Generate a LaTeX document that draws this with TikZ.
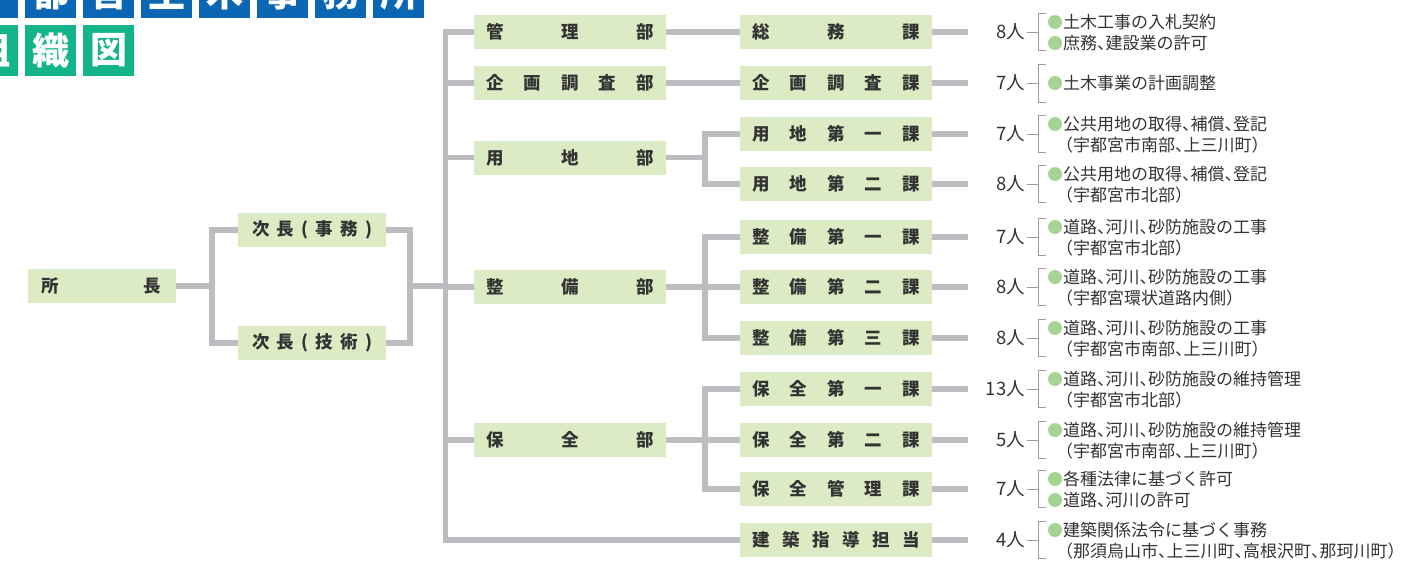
\documentclass[tikz,border=0pt]{standalone}
\usepackage{fontspec}
\setmainfont{Noto Sans CJK JP}
\definecolor{linegray}{HTML}{BDBDC1}
\definecolor{thingray}{HTML}{9C9C9C}
\definecolor{boxgreen}{HTML}{DDEBC4}
\definecolor{txt}{HTML}{333333}
\definecolor{titleblue}{HTML}{0B67B3}
\definecolor{titlegreen}{HTML}{14B48B}
\definecolor{bulletgreen}{HTML}{A5D492}
\newcommand\spr[2]{\makebox[#1][s]{#2}}
\newcommand\tk{\makebox[.5em][l]{、}}
\tikzset{
  conn/.style={draw=linegray, line width=5.5pt, line join=miter},
  thinln/.style={draw=thingray, line width=0.9pt},
  box/.style={fill=boxgreen, minimum height=34pt, inner sep=0pt, text=txt,
    font=\bfseries\fontsize{17.5pt}{20pt}\selectfont},
  wbox/.style={box, minimum width=192pt},
  sbox/.style={box, minimum width=148pt},
  tb/.style={fill=titleblue, minimum size=51pt, inner sep=0pt, text=white,
    font=\bfseries\fontsize{37pt}{40pt}\selectfont},
  tg/.style={tb, fill=titlegreen},
  cnt/.style={inner sep=0pt, text=txt, font=\fontsize{18.5pt}{20pt}\selectfont},
  desc/.style={inner sep=0pt, text=txt, font=\fontsize{17pt}{18pt}\selectfont},
  bullet/.style={circle, fill=bulletgreen, minimum size=14pt, inner sep=0pt},
}
% count label with tick
\newcommand\cntl[3]{%
  \node[cnt, anchor=east] (#1n) at (1025,#2) {#3};
  \coordinate (#1k) at (1038,#2);
  \draw[thinln] (#1n.east) ++(2,0) -- (#1k);
}
% bracket
\newcommand\brk[4]{%
  \coordinate (#1u) at (1046,#2-#3);
  \coordinate (#1d) at (1046,#2+#4);
  \draw[thinln] (#1u) -- (#1u -| #1k) -- (#1d -| #1k) -- (#1d);
}
% bullet line
\newcommand\bl[3]{%
  \node[bullet] (#1) at (1055,#2) {};
  \node[desc, anchor=west] (#1x) at (1063,#2) {#3};
}
% paren line
\newcommand\pl[3]{%
  \node[desc, anchor=west] (#1) at (1056,#2) {#3};
}
\begin{document}
\begin{tikzpicture}[x=1pt,y=-1pt]
\useasboundingbox (0,0) rectangle (1414,562);
\clip (0,0) rectangle (1414,562);

% title
\foreach \c [count=\i from 0] in {宇,都,宮,土,木,事,務,所}
  \node[tb] (t\i) at (-7.5+58*\i,-7.5) {\c};
\foreach \c [count=\i from 0] in {組,織,図}
  \node[tg] (g\i) at (-7.5+58*\i,50.5) {\c};

% level 1-2
\node[sbox] (shocho) at (101.5,286) {\spr{120pt}{所\hfill 長}};
\node[sbox] (jimu) at (312,230) {\spr{120pt}{次\hfill 長\hfill (\hfill 事\hfill 務\hfill )}};
\node[sbox] (gijutsu) at (312,343) {\spr{120pt}{次\hfill 長\hfill (\hfill 技\hfill 術\hfill )}};

% departments
\node[wbox] (kanri) at (570,32) {\spr{168pt}{管\hfill 理\hfill 部}};
\node[wbox] (kikaku) at (570,83) {\spr{168pt}{企\hfill 画\hfill 調\hfill 査\hfill 部}};
\node[wbox] (yochi) at (570,157.5) {\spr{168pt}{用\hfill 地\hfill 部}};
\node[wbox] (seibi) at (570,287) {\spr{168pt}{整\hfill 備\hfill 部}};
\node[wbox] (hozen) at (570,440) {\spr{168pt}{保\hfill 全\hfill 部}};

% sections
\node[wbox] (s1) at (836,32) {\spr{168pt}{総\hfill 務\hfill 課}};
\node[wbox] (s2) at (836,83) {\spr{168pt}{企\hfill 画\hfill 調\hfill 査\hfill 課}};
\node[wbox] (s3) at (836,134) {\spr{168pt}{用\hfill 地\hfill 第\hfill 一\hfill 課}};
\node[wbox] (s4) at (836,184) {\spr{168pt}{用\hfill 地\hfill 第\hfill 二\hfill 課}};
\node[wbox] (s5) at (836,237) {\spr{168pt}{整\hfill 備\hfill 第\hfill 一\hfill 課}};
\node[wbox] (s6) at (836,287) {\spr{168pt}{整\hfill 備\hfill 第\hfill 二\hfill 課}};
\node[wbox] (s7) at (836,338) {\spr{168pt}{整\hfill 備\hfill 第\hfill 三\hfill 課}};
\node[wbox] (s8) at (836,389) {\spr{168pt}{保\hfill 全\hfill 第\hfill 一\hfill 課}};
\node[wbox] (s9) at (836,440) {\spr{168pt}{保\hfill 全\hfill 第\hfill 二\hfill 課}};
\node[wbox] (s10) at (836,489) {\spr{168pt}{保\hfill 全\hfill 管\hfill 理\hfill 課}};
\node[wbox] (s11) at (836,540) {\spr{168pt}{建\hfill 築\hfill 指\hfill 導\hfill 担\hfill 当}};

% connectors left
\coordinate (b1) at (212,286);
\coordinate (b2) at (410,286);
\coordinate (m) at (445.5,286);
\draw[conn] (shocho.east) -- (b1);
\draw[conn] (jimu.west) -| (b1) |- (gijutsu.west);
\draw[conn] (jimu.east) -| (b2) |- (gijutsu.east);
\draw[conn] (b2) -- (m);
\draw[conn] (kanri.west) -| (m) |- (s11.west);
\draw[conn] (kikaku.west) -- (kikaku.west -| m);
\draw[conn] (yochi.west) -- (yochi.west -| m);
\draw[conn] (seibi.west) -- (seibi.west -| m);
\draw[conn] (hozen.west) -- (hozen.west -| m);

% dept to sections
\coordinate (yb) at (705,157.5);
\coordinate (sb) at (705,287);
\coordinate (hb) at (705,440);
\draw[conn] (kanri.east) -- (s1.west);
\draw[conn] (kikaku.east) -- (s2.west);
\draw[conn] (yochi.east) -- (yb);
\draw[conn] (s3.west) -| (yb) |- (s4.west);
\draw[conn] (seibi.east) -- (s6.west);
\draw[conn] (s5.west) -| (sb) |- (s7.west);
\draw[conn] (hozen.east) -- (s9.west);
\draw[conn] (s8.west) -| (hb) |- (s10.west);

% stubs
\foreach \n/\y in {s1/32,s2/83,s3/134,s4/184,s5/237,s6/287,s7/338,s8/389,s9/440,s10/489,s11/540}{
  \coordinate (\n e) at (968,\y);
  \draw[conn] (\n.east) -- (\n e);
}

% descriptions
\cntl{r1}{32}{8人}\brk{r1}{32}{19}{18}
\bl{r1a}{22}{土木工事の入札契約}\bl{r1b}{43}{庶務\tk 建設業の許可}

\cntl{r2}{83}{7人}\brk{r2}{83}{19}{19}
\bl{r2a}{83}{土木事業の計画調整}

\cntl{r3}{134}{7人}\brk{r3}{134}{19}{18}
\bl{r3a}{124}{公共用地の取得\tk 補償\tk 登記}\pl{r3b}{145}{（宇都宮市南部\tk 上三川町）}

\cntl{r4}{184}{8人}\brk{r4}{184}{19}{18}
\bl{r4a}{174}{公共用地の取得\tk 補償\tk 登記}\pl{r4b}{195}{（宇都宮市北部）}

\cntl{r5}{237}{7人}\brk{r5}{237}{19}{18}
\bl{r5a}{227}{道路\tk 河川\tk 砂防施設の工事}\pl{r5b}{248}{（宇都宮市北部）}

\cntl{r6}{287}{8人}\brk{r6}{287}{19}{18}
\bl{r6a}{277}{道路\tk 河川\tk 砂防施設の工事}\pl{r6b}{298}{（宇都宮環状道路内側）}

\cntl{r7}{338}{8人}\brk{r7}{338}{19}{18}
\bl{r7a}{328}{道路\tk 河川\tk 砂防施設の工事}\pl{r7b}{349}{（宇都宮市南部\tk 上三川町）}

\cntl{r8}{389}{13人}\brk{r8}{389}{19}{18}
\bl{r8a}{379}{道路\tk 河川\tk 砂防施設の維持管理}\pl{r8b}{400}{（宇都宮市北部）}

\cntl{r9}{440}{5人}\brk{r9}{440}{19}{18}
\bl{r9a}{430}{道路\tk 河川\tk 砂防施設の維持管理}\pl{r9b}{451}{（宇都宮市南部\tk 上三川町）}

\cntl{r10}{489}{7人}\brk{r10}{489}{19}{18}
\bl{r10a}{479}{各種法律に基づく許可}\bl{r10b}{500}{道路\tk 河川の許可}

\cntl{r11}{540}{4人}\brk{r11}{540}{19}{18}
\bl{r11a}{530}{建築関係法令に基づく事務}\pl{r11b}{551}{（那須烏山市\tk 上三川町\tk 高根沢町\tk 那珂川町）}
\end{tikzpicture}
\end{document}
